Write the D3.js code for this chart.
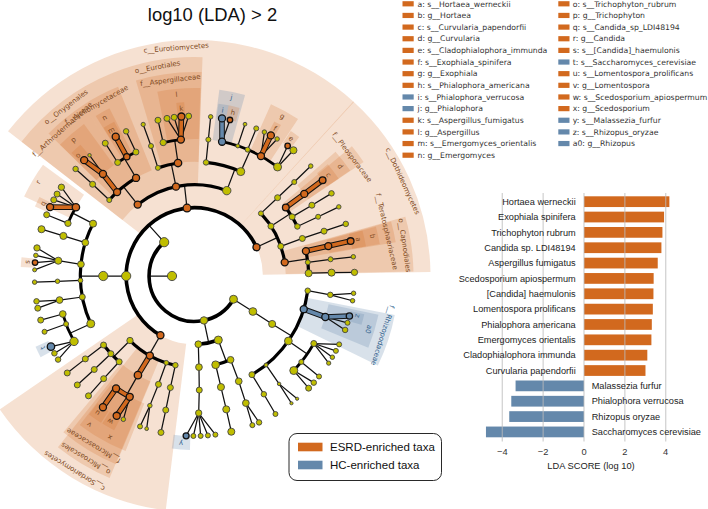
<!DOCTYPE html>
<html><head><meta charset="utf-8">
<script src="https://cdn.jsdelivr.net/npm/d3@7"></script>
<style>html,body{margin:0;padding:0;background:#fff}svg{display:block}</style></head>
<body><svg id="c" width="708" height="509"></svg>
<script>
// --- taxonomy tree: id, parent, angle (deg clockwise from north), abundance, enrichment (0 none, 1 ESRD, 2 HC)
const taxa = [
["root","",270,85,0],
["Asco","root",318.1,85,0],["Mid","root",168,55,0],["Muc","root",120.8,64,0],
["Sord","Asco",209.9,50,1],["Sacc","Asco",270,85,0],["Euro","Asco",353.7,60,1],["Doth","Asco",425.1,50,1],
["M1","Mid",159.6,64,0],["M2","Mid",176.8,45,0],["Z1","Muc",121.3,60,0],
["Oa","Sord",225,40,0],["Mas","Sord",209.3,50,1],["Oc","Sord",198,22,0],["Od","Sord",192.1,30,0],
["S1","Sacc",270,85,0],
["Ony","Euro",321.5,50,1],["Eur","Euro",348.3,50,1],["Chae","Euro",380.7,70,0],
["P1","Doth",406.7,25,0],["P2","Doth",416.9,36,0],["P3","Doth",431,36,0],["Cap","Doth",441.4,50,1],
["M1a","M1",166.6,60,0],["M1b","M1",156.7,45,0],["M2a","M2",177.2,45,0],["Z2","Z1",121.7,50,0],
["Oa1","Oa",232.8,36,0],["Oa2","Oa",227.1,36,0],["Oa3","Oa",221.3,36,0],
["Msc","Mas",209.7,55,1],["Oc1","Oc",198.4,36,0],["Od1","Od",192.2,36,0],
["F1","S1",297.3,50,0],["F2","S1",287,45,0],["F3","S1",275.9,45,0],["F4","S1",267.8,22,0],["F5","S1",259.4,36,0],["F6","S1",245.3,64,0],
["Ony0","Ony",311.7,25,0],["Arth","Ony",317.3,50,1],["Aje","Ony",329.2,50,1],
["Eur0","Eur",341.3,25,0],["Asp","Eur",351.7,55,1],
["Ch1","Chae",365.8,30,0],["Her","Chae",383.9,64,0],
["P1a","P1",406.7,36,0],["Ple","P2",413.1,45,1],["P2b","P2",418.8,36,0],["P2c","P2",424.3,30,0],["P3a","P3",430.8,36,0],
["Ter","Cap",437.4,50,1],["Cap2","Cap",443.1,25,0],["Cap3","Cap",448.6,50,0],
["M2b","M2a",177.6,36,0],["M1a1","M1a",166.6,50,0],["M1b1","M1b",157.2,45,0],
["Z3a","Z2",97.4,30,0],["Rhi","Z2",106.9,50,2],["Z3c","Z2",124.7,60,0],["Z3d","Z2",141.2,16,0],["Z3e","Z2",149.8,36,0],
["Oa1g","Oa1",232.8,36,0],["Oa2g","Oa2",227,36,0],["Oa3g","Oa3",221.5,36,0],
["v","Msc",214.9,50,1],["x","Msc",208.2,50,1],["Oc1g","Oc1",199,20,0],["Od1g","Od1",192.1,36,0],
["F1g","F1",292.6,40,0],["r","F1",300.1,55,1],["F2g","F2",287,50,0],["F3g","F3",276.4,50,0],["F4g","F4",267.8,20,0],["F5g","F5",259.9,45,0],
["F6a","F6",253.9,45,0],["F6b","F6",249.5,25,0],["F6c","F6",241.5,70,0],
["Ony0g","Ony0",312,36,0],["p","Arth",318.1,50,1],
["Aje1","Aje",325.9,36,0],["n","Aje",330.4,40,1],["Aje3","Aje",334.7,36,0],
["Eur0g","Eur0",341.5,25,0],["Asp1","Asp",346.8,40,0],["l","Asp",354.3,50,1],
["Ch1g","Ch1",365.8,25,0],["j","Her",371.6,50,2],["Her2","Her",378.4,16,0],["Her3","Her",382.8,25,0],["g","Her",389,50,1],["Her5","Her",397.3,64,0],
["P1g","P1a",406.7,25,0],["d","Ple",413.2,50,1],["P2bg","P2b",418.9,36,0],["P2cg","P2c",424.4,25,0],["P3g","P3a",430.9,36,0],
["b","Ter",437.4,50,1],["Cap2g","Cap2",443,25,0],["Cap3g","Cap3",448.6,50,0],
["M2g","M2b",178.25,40,0],["M1ag","M1a1",166.6,50,0],["M1bg","M1b1",158,45,0],
["Z4a","Z3a",97.9,30,0],["a0","Rhi",107.4,50,2],["Z4c","Z3c",119.5,36,0],["Z4d","Z3c",128.8,25,0],["Z4e","Z3c",133.6,64,0],["Z4f","Z3d",141.9,12,0],["Z4g","Z3e",149.6,30,0],
["sp1","Oa1g",232.7,36,0],["sp2","Oa2g",227.1,36,0],["sp3","Oa3g",221.5,36,0],
["u","v",214.9,50,1],["w","x",209.1,50,1],["sp4","x",206.4,20,0],
["sp5","Oc1g",199.9,25,0],["sp6","Oc1g",197.4,14,0],["sp7","Od1g",192.1,36,0],
["q","r",295.5,50,1],["sp8","r",298.4,36,0],["sp9","r",300.8,36,0],["sp10","r",303.7,40,0],
["sp11","F1g",292.5,36,0],["sp12","F2g",287,50,0],
["sp13","F3g",280.1,40,0],["sp14","F3g",277.4,20,0],["s","F3g",274.8,30,1],["sp15","F3g",272.2,16,0],
["sp16","F4g",267.8,20,0],["sp17","F5g",260.9,30,0],["sp18","F5g",258.4,36,0],
["sp19","F6a",254,36,0],["sp20","F6b",249.6,25,0],
["t","F6c",243.8,55,2],["sp21","F6c",241.1,30,0],["sp22","F6c",238.5,30,0],
["sp23","Ony0g",312,30,0],["o","p",316.4,50,1],["sp24","p",319,12,0],
["sp25","Aje1",326.1,36,0],["m","n",330.5,50,1],["sp26","Aje3",334.7,30,0],
["sp27","Eur0g",341.3,18,0],["sp28","Asp1",346.8,36,0],
["sp29","l",350.1,36,0],["sp30","l",352.7,36,0],["k","l",355.3,50,1],["sp31","l",357.9,36,0],
["sp32","Ch1g",365.8,20,0],["i","j",369.9,50,2],["h","j",372.8,30,1],
["sp33","Her2",378.4,14,0],["sp34","Her3",382.7,25,0],
["sp35","g",385.9,20,0],["f","g",388.5,50,1],["sp36","g",391.1,20,0],
["e","Her5",395.6,30,1],["sp37","Her5",398.2,50,0],
["sp38","P1g",406.6,20,0],["c","d",413.2,45,1],["sp39","P2bg",418.9,30,0],["sp40","P2cg",424.4,20,0],["sp41","P3g",431,30,0],
["a","b",437.4,45,1],["sp42","Cap2g",443.1,20,0],["sp43","Cap3g",448.7,40,0],
["y","M2g",183,36,2],["sp44","M2g",180.4,25,0],["sp45","M2g",177.8,25,0],["sp46","M2g",175.2,25,0],["sp47","M2g",172.5,25,0],
["sp48","M1ag",166.7,50,0],["sp49","M1bg",158.8,25,0],["sp50","M1bg",156.2,30,0],
["sp51","Z4a",96.2,20,0],["sp52","Z4a",98.9,20,0],
["z","a0",104.5,40,2],["sp53","a0",107,25,0],["sp54","a0",109.7,30,0],
["sp55","Z4c",115.3,25,0],["sp56","Z4c",117.9,25,0],["sp57","Z4c",120.5,20,0],["sp58","Z4c",123,18,0],
["sp59","Z4d",128.9,25,0],["sp60","Z4e",131.8,30,0],["sp61","Z4e",134.5,36,0],
["sp62","Z4f",142.7,10,0],["sp63","Z4f",140.1,10,0],["sp64","Z4g",149.6,25,0]
];
// --- highlighted clades: label, rank, angle from, angle to, enrichment, label angle
const clades = [
["c__Eurotiomycetes","c",307.8,402.5,1,355.4],["c__Dothideomycetes","c",402.3,449,1,425.5],["c__Sordariomycetes","c",187,235.6,1,211.6],
["o__Onygenales","o",307.8,338,1,322.8],["o__Eurotiales","o",338,362.1,1,350],["o__Capnodiales","o",434.3,448.8,1,441.7],["o__Microascales","o",202.8,218.6,1,210.8],
["f__Arthrodermataceae","f",314.3,327,1,318],["f__Ajellomycetaceae","f",327,338,1,330.2],["f__Aspergillaceae","f",343.3,362,1,353],
["f__Pleosporaceae","f",410.5,416,1,413],["f__Teratosphaeriaceae","f",434.5,440.5,1,437],["f__Microascaceae","f",202.6,220,1,210.8],["f__Rhizopodaceae","f",101,116,2,107.5],
["b","g",434.8,440.2,1,437.4],["d","g",408.6,415.9,1,413],["g","g",384,393.4,1,388.8],["j","g",367.6,375.6,2,371.7],["l","g",348.6,361.8,1,354.3],
["n","g",328.3,333.1,1,330.4],["p","g",314.3,324,1,318.4],["r","g",295,306.3,1,301],["v","g",212,217.6,1,215.3],["x","g",201.5,212,1,207.7],["a0","g",101.9,112.4,2,107],
["a","s",434.8,440.2,1,437.4],["c","s",410,416,1,413],["e","s",393.6,397,1,395.1],["f","s",387.3,389.8,1,388.6],["h","s",371.3,375,1,373.2],["i","s",367.9,371.3,2,369.6],
["k","s",354,356.6,1,355.5],["m","s",328.5,332.5,1,330.3],["o","s",315,319,1,316],["q","s",293.5,297,1,295.6],["s","s",273,276.2,1,274.8],["t","s",242.2,246,2,244.7],
["u","s",212.5,217.3,1,215.4],["w","s",207.5,212,1,210.1],["y","s",181.5,187.5,2,184.6],["z","s",102.7,106.3,2,103.7]
];
const rankDepth = {c:2,o:3,f:4,g:5,s:6};
// --- legend
const legendOne = ["a: s__Hortaea_werneckii","b: g__Hortaea","c: s__Curvularia_papendorfii","d: g__Curvularia","e: s__Cladophialophora_immunda","f: s__Exophiala_spinifera","g: g__Exophiala","h: s__Phialophora_americana","i: s__Phialophora_verrucosa","j: g__Phialophora","k: s__Aspergillus_fumigatus","l: g__Aspergillus","m: s__Emergomyces_orientalis","n: g__Emergomyces"];
const legendOneKind = [1,1,1,1,1,1,1,1,2,2,1,1,1,1];
const legendTwo = ["o: s__Trichophyton_rubrum","p: g__Trichophyton","q: s__Candida_sp_LDI48194","r: g__Candida","s: s__[Candida]_haemulonis","t: s__Saccharomyces_cerevisiae","u: s__Lomentospora_prolificans","v: g__Lomentospora","w: s__Scedosporium_apiospermum","x: g__Scedosporium","y: s__Malassezia_furfur","z: s__Rhizopus_oryzae","a0: g__Rhizopus"];
const legendTwoKind = [1,1,1,1,1,2,1,1,1,1,2,2,2];
const groups = ["ESRD-enriched taxa","HC-enriched taxa"];
// --- LDA bars
const barNames = ["Hortaea werneckii","Exophiala spinifera","Trichophyton rubrum","Candida sp. LDI48194","Aspergillus fumigatus","Scedosporium apiospermum","[Candida] haemulonis","Lomentospora prolificans","Phialophora americana","Emergomyces orientalis","Cladophialophora immunda","Curvularia papendorfii","Malassezia furfur","Phialophora verrucosa","Rhizopus oryzae","Saccharomyces cerevisiae"];
const barScores = [4.18,3.92,3.84,3.79,3.61,3.41,3.40,3.37,3.32,3.30,3.10,3.01,-3.35,-3.56,-3.66,-4.80];
const barTicks = [-4,-2,0,2,4];

const ORANGE="#D2691E", BLUE="#6488AB", GREEN="#C0BE00";
const colour = k => k===1?ORANGE:k===2?BLUE:GREEN;
const textCol = k => k===2?"#2f5f8c":"#7f4a22";
const svg = d3.select("#c");
const SANS="'Liberation Sans',Arial,sans-serif", DEJA="'DejaVu Sans',sans-serif";

// title
svg.append("text").attr("x",212.5).attr("y",20.5).attr("text-anchor","middle").attr("font-family",SANS).attr("font-size",18.4).attr("fill","#111").text("log10 (LDA) > 2");

// cladogram
const plot = svg.append("g").attr("transform","translate(194.5,276)");
const rad = d => d*Math.PI/180;
const R = d3.scaleLinear().domain([0,6]).range([22.5,160]);
const wedgeOuter = d3.scaleOrdinal().domain(["s","g","f","o","c"]).range([174,188,204,219,236]);
const labelR = d3.scaleOrdinal().domain(["s","g","f","o","c"]).range([168,182.4,197.5,212.5,229]);
const size = d3.scaleSqrt().domain([0,100]).range([0,5]);
const arcGen = d3.arc();

const rootNode = d3.stratify().id(d=>d[0]).parentId(d=>d[1]||null)(taxa);
const pos = (n,depth=n.depth)=>d3.pointRadial(rad(n.data[2]),R(depth));

// wedges
plot.append("g").selectAll("path").data(clades).join("path")
  .attr("d",d=>arcGen({innerRadius:R(rankDepth[d[1]]),outerRadius:wedgeOuter(d[1]),startAngle:rad(d[2]),endAngle:rad(d[3])}))
  .attr("fill",d=>d[4]===2?BLUE:ORANGE).attr("fill-opacity",d=>d[4]===2?0.25:0.2);

const edges = plot.append("g").attr("fill","none").attr("stroke-linecap","round");
const arcWidth = d3.scaleOrdinal().domain([1,2,3,4,5]).range([3.6,3.6,3.2,3.2,2.8]);
const line = (g,p,q,col,w)=>g.append("line").attr("x1",p[0]).attr("y1",p[1]).attr("x2",q[0]).attr("y2",q[1]).attr("stroke",col).attr("stroke-width",w);
rootNode.descendants().forEach(n=>{
  if(!n.children) return;
  const kids=n.children, depth=n.depth+1, kk=n.data[4];
  if(kids.length===1 || depth===6){
    kids.forEach(c=>{
      const thick = c.data[4]!==0 && c.data[4]===kk;
      if(!thick) line(edges,pos(n),pos(c),"#111",1.25);
    });
  } else {
    const as=kids.map(c=>c.data[2]);
    const allSame = kk!==0 && kids.every(c=>c.data[4]===kk);
    line(edges,pos(n),pos(n,depth),"#111",1.25);
    const p=arcGen({innerRadius:R(depth),outerRadius:R(depth),startAngle:rad(d3.min(as)),endAngle:rad(d3.max(as))});
    if(allSame){
      edges.append("path").attr("d",p).attr("stroke","#111").attr("stroke-width",5.4);
      edges.append("path").attr("d",p).attr("stroke",colour(kk)).attr("stroke-width",3.4);
    } else {
      edges.append("path").attr("d",p).attr("stroke","#000").attr("stroke-width",arcWidth(depth));
    }
  }
});
// thick coloured links between enriched parent and child
rootNode.descendants().forEach(c=>{
  if(!c.parent) return;
  const n=c.parent;
  if((n.children.length===1||c.depth===6)&&c.data[4]!==0&&c.data[4]===n.data[4]){
    line(edges,pos(n),pos(c),"#111",5.6);
    line(edges,pos(n),pos(c),colour(c.data[4]),3.6);
  }
});
// nodes
plot.append("g").selectAll("circle").data(rootNode.descendants()).join("circle")
  .attr("cx",d=>pos(d)[0]).attr("cy",d=>pos(d)[1]).attr("r",d=>size(d.data[3]))
  .attr("fill",d=>colour(d.data[4])).attr("stroke",d=>d.data[4]?"#111":"#444").attr("stroke-width",d=>d.data[4]?1.3:0.9);
// clade labels
plot.append("g").selectAll("text").data(clades).join("text")
  .attr("transform",d=>{const p=d3.pointRadial(rad(d[5]),labelR(d[1]));return `translate(${p[0]},${p[1]}) rotate(${d[5]})`;})
  .attr("text-anchor","middle").attr("dy","0.35em").attr("font-family",DEJA).attr("font-size",7).attr("fill",d=>textCol(d[4])).text(d=>d[0]);

// taxon legend
const rowY = d3.scaleLinear().domain([0,13]).range([3.8,155.2]);
function legendCol(names,kinds,swX,txtX){
  const g=svg.append("g");
  g.selectAll("rect").data(names).join("rect").attr("x",swX).attr("y",(d,i)=>rowY(i)-2.6).attr("width",11.2).attr("height",5.2).attr("fill",(d,i)=>colour(kinds[i]));
  g.selectAll("text").data(names).join("text").attr("x",txtX).attr("y",(d,i)=>rowY(i)).attr("dy","0.35em").attr("font-family",DEJA).attr("font-size",7.72).attr("fill","#333").text(d=>d);
}
legendCol(legendOne,legendOneKind,402.5,417.5);
legendCol(legendTwo,legendTwoKind,558.3,572.7);

// group legend
const lg=svg.append("g");
lg.append("rect").attr("x",289).attr("y",433.5).attr("width",152.5).attr("height",47).attr("rx",8).attr("fill","#fff").attr("stroke","#111").attr("stroke-width",0.9);
lg.selectAll(".sw").data(groups).join("rect").attr("class","sw").attr("x",298).attr("y",(d,i)=>442.7+i*18).attr("width",24.5).attr("height",8.6).attr("fill",(d,i)=>colour(i+1));
lg.selectAll("text").data(groups).join("text").attr("x",330).attr("y",(d,i)=>447+i*18).attr("dy","0.36em").attr("font-family",SANS).attr("font-size",11.5).attr("fill","#111").text(d=>d);

// LDA bars
const x=d3.scaleLinear().domain([-4,4]).range([502.3,665.7]);
const y=d3.scaleBand().domain(barNames).range([194,439.6]).paddingInner(0.3).paddingOuter(0.15);
const bars=svg.append("g");
bars.selectAll("rect").data(barNames).join("rect")
  .attr("x",(d,i)=>Math.min(x(0),x(barScores[i]))).attr("width",(d,i)=>Math.abs(x(barScores[i])-x(0)))
  .attr("y",d=>y(d)).attr("height",y.bandwidth()).attr("fill",(d,i)=>barScores[i]>0?ORANGE:BLUE);
svg.append("g").selectAll("line").data(barTicks).join("line")
  .attr("x1",d=>x(d)).attr("x2",d=>x(d)).attr("y1",193).attr("y2",441.5).attr("stroke","#bbb").attr("stroke-width",1.3).attr("stroke-opacity",0.65);
svg.append("g").selectAll("text").data(barNames).join("text")
  .attr("x",(d,i)=>barScores[i]>0?x(0)-8.3:x(0)+7.7).attr("y",d=>y(d)+y.bandwidth()/2).attr("dy","0.35em")
  .attr("text-anchor",(d,i)=>barScores[i]>0?"end":"start").attr("font-family",SANS).attr("font-size",9.2).attr("fill","#1c1c1c").text(d=>d);
svg.append("g").selectAll("text").data(barTicks).join("text")
  .attr("x",d=>x(d)).attr("y",451.7).attr("dy","0.35em").attr("text-anchor","middle").attr("font-family",SANS).attr("font-size",9.3).attr("fill","#333").text(d=>d3.format("")(d));
svg.append("text").attr("x",591).attr("y",465.7).attr("dy","0.35em").attr("text-anchor","middle").attr("font-family",SANS).attr("font-size",9.3).attr("fill","#222").text("LDA SCORE (log 10)");
</script></body></html>
